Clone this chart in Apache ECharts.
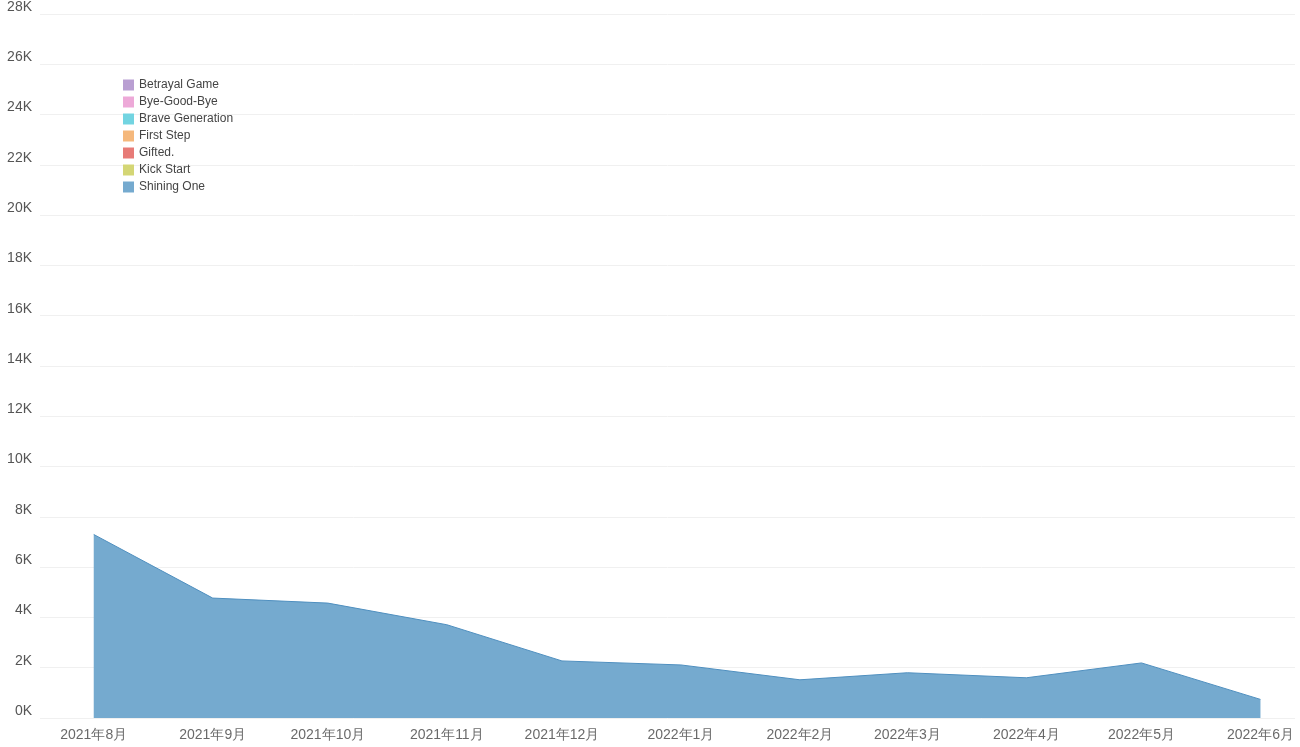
<!DOCTYPE html>
<html>
<head>
<meta charset="utf-8">
<script src="https://cdn.jsdelivr.net/npm/echarts@6/dist/echarts.min.js"></script>
<style>html,body{margin:0;padding:0;background:#fff}#chart{width:1300px;height:747px}</style>
</head>
<body>
<div id="chart"></div>
<script>
const months = ['2021-08-01','2021-09-01','2021-10-01','2021-11-01','2021-12-01','2022-01-01',
  '2022-02-01','2022-03-01','2022-04-01','2022-05-01','2022-06-01'];
// values per month, in K (null = no data)
const shiningOne = [7.3, 4.77, 4.57, 3.71, 2.27, 2.11, 1.52, 1.8, 1.6, 2.19, 0.74];
const kickStart = [null, null, 5.47, 3.13, 0.39, null, null, null, null, null, null];
const gifted = [null, null, null, 17.9, 6.6, 3.99, 0.86, 0.35, null, null, null];
const firstStep = [null, null, null, 2.06, null, null, null, null, null, null, null];
const braveGeneration = [null, null, null, null, null, null, 7.58, 2.77, 0.74, 0.78, null];
const byeGoodBye = [null, null, null, null, null, null, null, 15.4, 9.38, 10.58, 3.79];
const betrayalGame = [null, null, null, null, null, null, null, null, null, 9.15, 1.45];

const seriesDefs = [
  {name: 'Shining One', data: shiningOne, fill: '#75aacf', line: '#4f8fbf'},
  {name: 'Kick Start', data: kickStart, fill: '#d4d675', line: '#bcbf3a'},
  {name: 'Gifted.', data: gifted, fill: '#e77b77', line: '#d94040'},
  {name: 'First Step', data: firstStep, fill: '#f5b87c', line: '#f39c3c'},
  {name: 'Brave Generation', data: braveGeneration, fill: '#72d4e1', line: '#2fbfd1'},
  {name: 'Bye-Good-Bye', data: byeGoodBye, fill: '#eda9d8', line: '#e07ac4'},
  {name: 'Betrayal Game', data: betrayalGame, fill: '#b99fd2', line: '#9d79c4'}
];

const monthTs = months.map(m => +new Date(m + 'T00:00:00Z'));
const fmt = v => { const d = new Date(v); return d.getUTCFullYear() + '年' + (d.getUTCMonth() + 1) + '月'; };

const chart = echarts.init(document.getElementById('chart'));
chart.setOption({
  animation: false,
  grid: {left: 40, right: 5, top: 2, bottom: 29},
  legend: {
    orient: 'vertical', left: 118, top: 74, itemWidth: 11, itemHeight: 11, itemGap: 5,
    icon: 'rect', textStyle: {fontSize: 12, color: '#444'},
    data: ['Betrayal Game', 'Bye-Good-Bye', 'Brave Generation', 'First Step', 'Gifted.', 'Kick Start', 'Shining One']
  },
  xAxis: {
    type: 'value',
    min: +new Date('2021-07-18T00:00:00Z'), max: +new Date('2022-06-10T00:00:00Z'),
    axisLine: {show: false}, axisTick: {show: false}, splitLine: {show: false},
    axisLabel: {show: false}
  },
  yAxis: {
    type: 'value', min: 0, max: 28, interval: 2,
    axisLine: {show: false}, axisTick: {show: false},
    splitLine: {lineStyle: {color: '#f0f0f0'}},
    axisLabel: {formatter: v => v + 'K', fontSize: 14, color: '#555', margin: 8, verticalAlign: 'bottom'}
  },
  series: seriesDefs.map(s => ({
    name: s.name, type: 'line', stack: 'total', symbol: 'none', connectNulls: false,
    itemStyle: {color: s.fill},
    lineStyle: {color: s.line, width: 1},
    areaStyle: {color: s.fill, opacity: 1},
    data: monthTs.map((t, i) => [t, s.data[i]])
  })).concat([{
    name: 'monthLabels', type: 'scatter', symbolSize: 0, silent: true, clip: false,
    label: {show: true, position: 'bottom', distance: 10, formatter: p => fmt(p.value[0]), fontSize: 14, color: '#444'},
    data: monthTs.map(t => [t, 0])
  }])
});
</script>
</body>
</html>
